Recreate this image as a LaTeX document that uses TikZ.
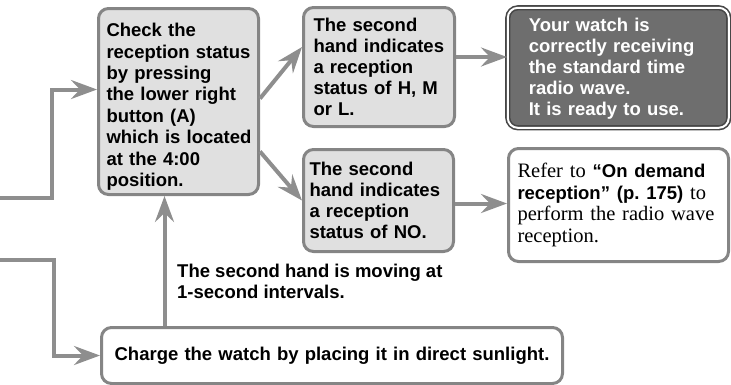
\documentclass[tikz,border=0pt]{standalone}
\usepackage{fontspec}
\setmainfont{Liberation Serif}
\setsansfont{Liberation Sans}
\usetikzlibrary{arrows.meta}

\definecolor{boxline}{HTML}{858585}
\definecolor{boxfill}{HTML}{E0E0E0}
\definecolor{arrowgray}{HTML}{8E8E8E}
\definecolor{darkfill}{HTML}{6E6E6E}
\definecolor{darkline}{HTML}{474747}
\newcommand{\boxfont}{\sffamily\bfseries\fontsize{18.5}{21}\selectfont}

\begin{document}
\begin{tikzpicture}[x=1pt,y=1pt,
		flow/.style={draw=arrowgray,line width=4pt,-{Stealth[length=26pt,width=19pt,inset=9pt]}},
		box/.style={draw=boxline,line width=3pt,rounded corners=10pt,fill=boxfill,
			anchor=north west,inner ysep=0pt,align=left,font=\boxfont}]
			%\draw[help lines,xstep=50,ystep=50] (0,-384) grid (731,0);
			\useasboundingbox (0,0) rectangle (731,-384);
			\node[box,text width=144pt,inner xsep=8pt,minimum height=186pt,
				font=\sffamily\bfseries\fontsize{18.5}{21.4}\selectfont] (check) at (97,-7)
				{\rule{0pt}{24pt}Check the\\reception status\\by pressing\\the lower right\\button (A)\\\mbox{which is located}\\at the 4:00\\position.};
			\node[box,text width=131pt,inner xsep=10pt,minimum height=119pt] (hml) at (302,-6)
				{The second\\hand indicates\\a reception\\status of H, M\\or L.};
			\node[box,draw=darkline,fill=darkfill,text=white,line width=1.6pt,double=white,double distance=2pt,
				text width=179pt,inner xsep=21pt,minimum height=120pt] (ready) at (507,-7)
				{\rule{0pt}{16pt}Your watch is\\correctly receiving\\the standard time\\radio wave.\\It is ready to use.};
			\node[box,text width=138pt,inner xsep=6pt,minimum height=102pt] (nocase) at (302,-148)
				{The second\\hand indicates\\a reception\\status of NO.};
			\node[box,fill=white,text width=202pt,inner xsep=9pt,minimum height=113pt,
				font=\rmfamily\mdseries\fontsize{20.5}{21.7}\selectfont] (refer) at (507,-147)
				{Refer to {\boxfont “On demand}\\{\boxfont reception” (p.~175)} to\\perform the radio wave\\reception.};
			\node[box,fill=white,text width=441pt,inner xsep=10pt,minimum height=56pt,align=center] (charge) at (100,-326)
				{Charge the watch by placing it in direct sunlight.};
			\node[anchor=north west,inner sep=0,align=left,font=\boxfont] (moving) at (177,-264)
				{The second hand is moving at\\1-second intervals.};
			\coordinate (in1) at (0,-198);
			\coordinate (in2) at (0,-260);
			\draw[flow] (in1) -- ++(52,0) |- ([yshift=12pt]check.west);
			\draw[flow] (in2) -- ++(54,0) |- (charge.west);
			\draw[flow] ([yshift=3pt]check.east) -- ([yshift=20pt]hml.west);
			\draw[flow] ([yshift=-50pt]check.east) -- (nocase.west);
			\draw[flow] ([yshift=10pt]hml.east) -- ([yshift=10pt]hml.east -| ready.west);
			\draw[flow] ([yshift=-3pt]nocase.east) -- ([yshift=-3pt]nocase.east -| refer.west);
			\draw[flow] ([xshift=-14pt]check.south |- charge.north) -- ([xshift=-14pt]check.south);
		\end{tikzpicture}
\end{document}
